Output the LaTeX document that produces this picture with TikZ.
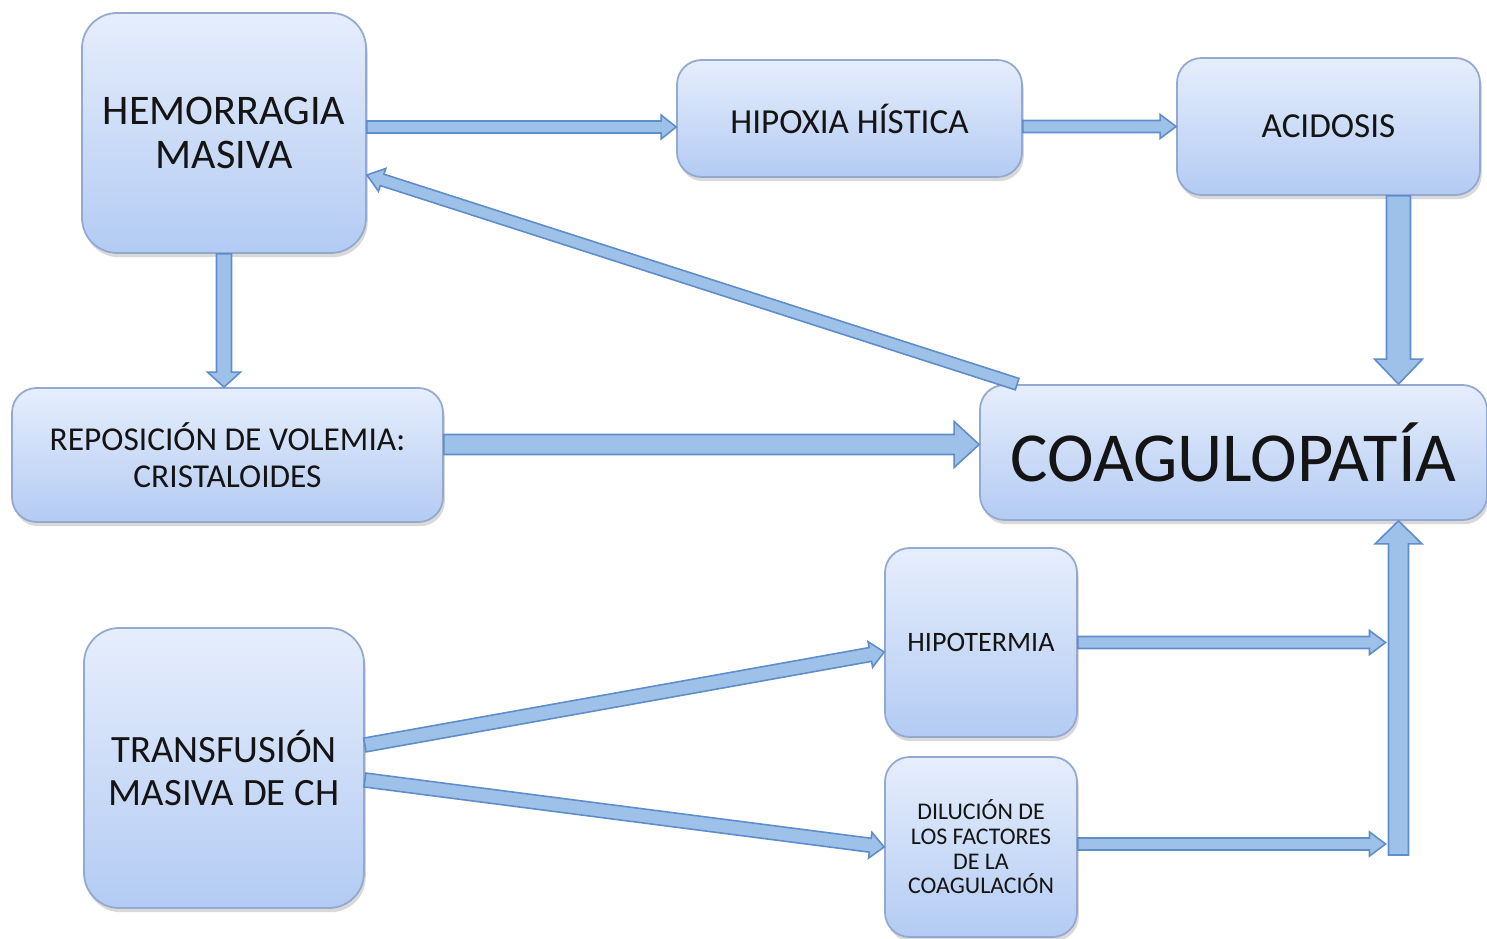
\documentclass[tikz,border=0pt]{standalone}
\usepackage{fontspec}
\setmainfont{Carlito}
\usepackage{tikz}
\usetikzlibrary{positioning, calc, shadows}

\definecolor{cajaarriba}{HTML}{E6EEFC}
\definecolor{cajaabajo}{HTML}{B3CBF3}
\definecolor{cajaborde}{HTML}{93A9CF}
\definecolor{flechafill}{HTML}{9EC1E9}
\definecolor{flechaborde}{HTML}{5F8DC9}
\definecolor{texto}{HTML}{141414}

\tikzset{
    caja/.style={draw=cajaborde, line width=0.5pt, top color=cajaarriba, bottom color=cajaabajo,
        rounded corners=7pt, align=center, text=texto, inner sep=2pt,
        drop shadow={shadow xshift=0.5pt, shadow yshift=-1.2pt, opacity=0.3}},
    flecha/.style={draw=flechaborde, fill=flechafill, line width=0.45pt, line join=miter}
}

% flecha gruesa: desde, hasta, medio ancho, medio ancho punta, largo punta
\newcommand{\flecha}[5]{%
    \filldraw[flecha] ($(#1)!#3!90:(#2)$)
        -- ($(#2)!#5!(#1)!#3!-90:(#1)$)
        -- ($(#2)!#5!(#1)!#4!-90:(#1)$)
        -- (#2)
        -- ($(#2)!#5!(#1)!#4!90:(#1)$)
        -- ($(#2)!#5!(#1)!#3!90:(#1)$)
        -- ($(#1)!#3!-90:(#2)$) -- cycle;}

\begin{document}
\begin{tikzpicture}
    \useasboundingbox (0,0) rectangle (14.87,-9.39);

    \node[caja, minimum width=2.84cm, minimum height=2.40cm, rounded corners=10pt,
        font=\fontsize{12}{12.5}\selectfont] (hem) at (2.24,-1.33) {HEMORRAGIA\\MASIVA};
    \node[caja, minimum width=3.45cm, minimum height=1.17cm,
        font=\fontsize{10}{12}\selectfont] (hipox) at (8.495,-1.185) {HIPOXIA HÍSTICA};
    \node[caja, minimum width=3.03cm, minimum height=1.37cm,
        font=\fontsize{10}{12}\selectfont] (acid) at (13.285,-1.265) {ACIDOSIS};
    \node[caja, minimum width=4.31cm, minimum height=1.34cm,
        font=\fontsize{9.5}{10.5}\selectfont] (repos) at (2.275,-4.55) {REPOSICIÓN DE VOLEMIA:\\CRISTALOIDES};
    \node[caja, minimum width=5.07cm, minimum height=1.35cm,
        font=\fontsize{20}{24}\selectfont] (coag) at (12.335,-4.525) {COAGULOPATÍA};
    \node[caja, minimum width=2.80cm, minimum height=2.80cm, rounded corners=10pt,
        font=\fontsize{11}{12.2}\selectfont] (transf) at (2.24,-7.68) {TRANSFUSIÓN\\MASIVA DE CH};
    \node[caja, minimum width=1.92cm, minimum height=1.89cm,
        font=\fontsize{8}{9}\selectfont] (hipot) at (9.81,-6.425) {HIPOTERMIA};
    \node[caja, minimum width=1.92cm, minimum height=1.80cm,
        font=\fontsize{6.8}{7}\selectfont] (dil) at (9.81,-8.47) {DILUCIÓN DE\\LOS FACTORES\\DE LA\\COAGULACIÓN};

    % puntos de llegada
    \coordinate (a1) at ([yshift=-0.085cm]hipox.west);
    \coordinate (a0) at (hem.east |- a1);
    \coordinate (b0) at (hipox.east |- acid.west);
    \coordinate (c0) at ([xshift=0.38cm]coag.north west);
    \coordinate (c1) at ([yshift=-0.42cm]hem.east);
    \coordinate (d1) at (hem.south |- repos.north);
    \coordinate (e1) at ([yshift=0.08cm]coag.west);
    \coordinate (e0) at (repos.east |- e1);
    \coordinate (f0) at ([xshift=0.7cm]acid.south);
    \coordinate (f1) at (f0 |- coag.north);
    \coordinate (g1) at (f0 |- coag.south);
    \coordinate (barra) at (f0 |- 0,-8.55);
    \coordinate (h1) at ([xshift=-0.13cm]hipot.east -| barra);
    \coordinate (i1) at ([yshift=0.03cm, xshift=-0.13cm]dil.east -| barra);
    \coordinate (j0) at ([yshift=0.23cm]transf.east);
    \coordinate (j1) at ([yshift=-0.095cm]hipot.west);
    \coordinate (k0) at ([yshift=-0.12cm]transf.east);

    \flecha{a0}{a1}{0.06cm}{0.12cm}{0.15cm}
    \flecha{b0}{acid.west}{0.06cm}{0.12cm}{0.16cm}
    \flecha{c0}{c1}{0.06cm}{0.12cm}{0.16cm}
    \flecha{hem.south}{d1}{0.075cm}{0.165cm}{0.15cm}
    \flecha{e0}{e1}{0.10cm}{0.23cm}{0.25cm}
    \flecha{f0}{f1}{0.12cm}{0.24cm}{0.25cm}
    \flecha{barra}{g1}{0.10cm}{0.235cm}{0.23cm}
    \flecha{hipot.east}{h1}{0.06cm}{0.12cm}{0.16cm}
    \flecha{[yshift=0.03cm]dil.east}{i1}{0.06cm}{0.12cm}{0.16cm}
    \flecha{j0}{j1}{0.07cm}{0.13cm}{0.14cm}
    \flecha{k0}{dil.west}{0.07cm}{0.13cm}{0.14cm}
\end{tikzpicture}
\end{document}
